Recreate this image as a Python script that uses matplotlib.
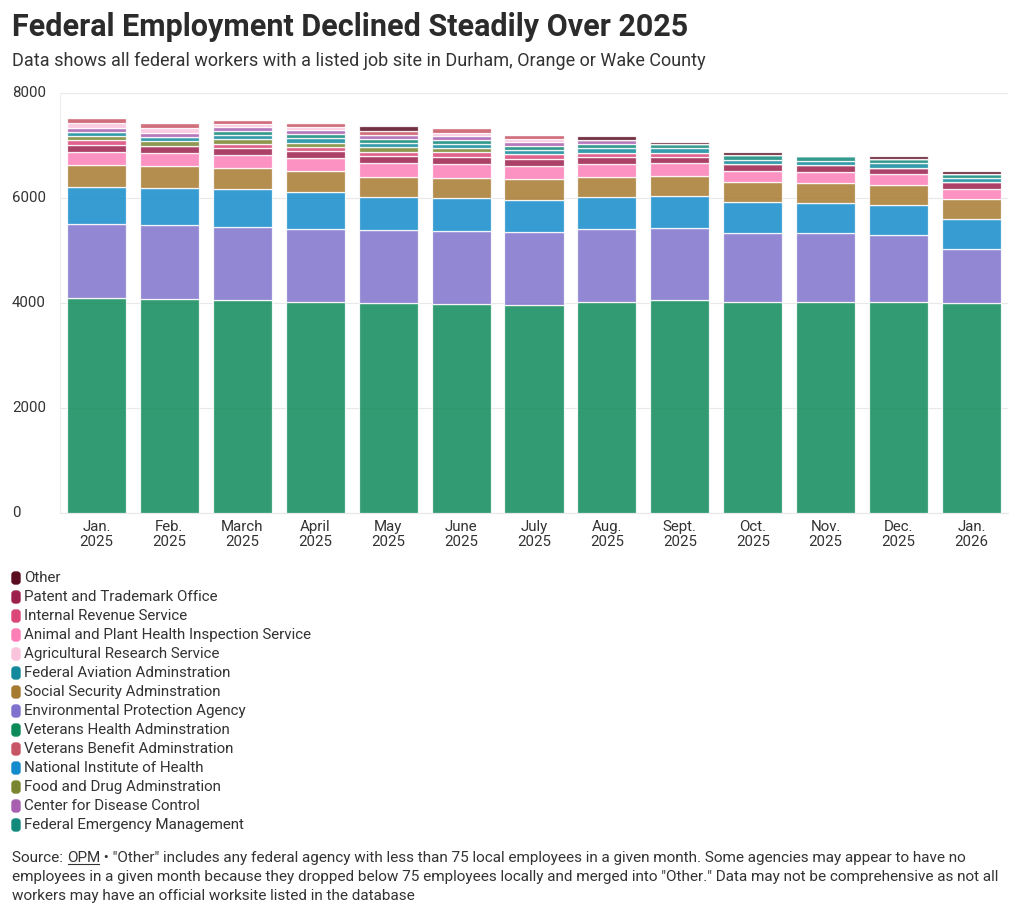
import matplotlib
matplotlib.use("Agg")
import matplotlib.pyplot as plt
from matplotlib.patches import FancyBboxPatch
import matplotlib.transforms as mtransforms

plt.rcParams["font.family"] = ["Roboto", "DejaVu Sans"]

# =============================================================================
# Data
# =============================================================================
months = ["Jan.\n2025", "Feb.\n2025", "March\n2025", "April\n2025", "May\n2025",
          "June\n2025", "July\n2025", "Aug.\n2025", "Sept.\n2025", "Oct.\n2025",
          "Nov.\n2025", "Dec.\n2025", "Jan.\n2026"]

vha = [4090, 4075, 4050, 4015, 3995, 3980, 3965, 4015, 4050, 4020, 4020, 4020, 3995]
epa = [1410, 1410, 1395, 1390, 1390, 1390, 1385, 1390, 1370, 1315, 1310, 1275, 1030]
nih = [705, 705, 720, 705, 630, 630, 610, 610, 610, 590, 575, 570, 570]
ssa = [420, 420, 400, 400, 380, 380, 400, 380, 380, 380, 380, 380, 380]
aphis = [245, 245, 250, 250, 265, 265, 250, 250, 250, 210, 210, 210, 200]
patent = [145, 140, 135, 135, 140, 140, 140, 140, 130, 135, 135, 125, 125]
irs = [85, 0, 85, 80, 85, 85, 80, 80, 75, 0, 0, 0, 0]
fda = [75, 85, 80, 80, 80, 80, 0, 0, 0, 0, 0, 0, 0]
faa = [85, 80, 80, 80, 80, 80, 80, 80, 80, 80, 80, 80, 80]
fema = [0, 0, 80, 80, 80, 80, 80, 80, 80, 85, 85, 85, 80]
cdc = [80, 80, 80, 80, 80, 80, 80, 80, 0, 0, 0, 0, 0]
ars = [85, 85, 55, 55, 0, 55, 55, 0, 0, 0, 0, 0, 0]
vba = [100, 100, 85, 85, 80, 80, 80, 0, 0, 0, 0, 0, 0]
other = [0, 0, 0, 0, 80, 0, 0, 75, 45, 55, 0, 60, 45]

# stacking order, bottom to top: (label, values, colour)
stack = [
    ("Veterans Health Adminstration", vha, "#0e8a5a"),
    ("Environmental Protection Agency", epa, "#7f72cc"),
    ("National Institute of Health", nih, "#148bcb"),
    ("Social Security Adminstration", ssa, "#a67a30"),
    ("Animal and Plant Health Inspection Service", aphis, "#fc7fb6"),
    ("Patent and Trademark Office", patent, "#9c1f4c"),
    ("Internal Revenue Service", irs, "#dc4579"),
    ("Food and Drug Adminstration", fda, "#7a8530"),
    ("Federal Aviation Adminstration", faa, "#128a9b"),
    ("Federal Emergency Management", fema, "#12897a"),
    ("Center for Disease Control", cdc, "#a85fb0"),
    ("Agricultural Research Service", ars, "#fbc4dd"),
    ("Veterans Benefit Adminstration", vba, "#c85565"),
    ("Other", other, "#5a0c20"),
]

legend_order = ["Other", "Patent and Trademark Office", "Internal Revenue Service",
                "Animal and Plant Health Inspection Service", "Agricultural Research Service",
                "Federal Aviation Adminstration", "Social Security Adminstration",
                "Environmental Protection Agency", "Veterans Health Adminstration",
                "Veterans Benefit Adminstration", "National Institute of Health",
                "Food and Drug Adminstration", "Center for Disease Control",
                "Federal Emergency Management"]

TXT = "#333333"
W, H = 1020, 916

# =============================================================================
# Figure
# =============================================================================
fig = plt.figure(figsize=(W / 100, H / 100), dpi=100)
ax = fig.add_axes([60 / W, 1 - 513 / H, 948 / W, 420 / H])

x = list(range(len(months)))
bottom = [0] * len(months)
for label, vals, color in stack:
    ax.bar(x, vals, width=0.81, bottom=bottom, color=color, alpha=0.85,
           edgecolor="white", linewidth=0.9, zorder=3)
    bottom = [b + v for b, v in zip(bottom, vals)]

ax.set_xlim(-0.5, len(months) - 0.5)
ax.set_ylim(0, 8000)
ax.set_yticks([0, 2000, 4000, 6000, 8000])
ax.set_yticklabels([])
ax.tick_params(axis="y", length=0)
ax.grid(axis="y", color="#e8e8e8", linewidth=0.8, zorder=0)
for s in ["top", "right"]:
    ax.spines[s].set_visible(False)
ax.spines["left"].set_color("#eeeeee")
ax.spines["bottom"].set_color("#e8e8e8")

# y labels sit at the left edge of the figure
blend = mtransforms.blended_transform_factory(fig.transFigure, ax.transData)
for v in [0, 2000, 4000, 6000, 8000]:
    ax.text(12 / W, v, f"{v}", transform=blend, ha="left", va="center",
            fontsize=10.8, color=TXT)

ax.set_xticks(x)
ax.set_xticklabels(months, fontsize=10.8, color=TXT, linespacing=1.1)
ax.tick_params(axis="x", length=0, pad=5)

# =============================================================================
# Titles
# =============================================================================
fig.text(12 / W, 1 - 27 / H, "Federal Employment Declined Steadily Over 2025",
         fontsize=22, fontweight="bold", color="#2b2b2b", va="center", ha="left")
fig.text(12 / W, 1 - 61 / H,
         "Data shows all federal workers with a listed job site in Durham, Orange or Wake County",
         fontsize=13, color=TXT, va="center", ha="left")

# =============================================================================
# Legend (vertical list under the chart)
# =============================================================================
colors = {lab: c for lab, _, c in stack}
for i, lab in enumerate(legend_order):
    yc = 1 - (578 + 19 * i) / H
    fig.patches.append(FancyBboxPatch((12 / W, yc - 6 / H), 8 / W, 12 / H,
                                      boxstyle="round,pad=0,rounding_size=0.003",
                                      transform=fig.transFigure, color=colors[lab]))
    fig.text(24 / W, yc, lab, fontsize=10.9, color=TXT, va="center", ha="left")

# =============================================================================
# Footnote
# =============================================================================
FS = 11
renderer = fig.canvas.get_renderer()
y1 = 1 - 858 / H
t1 = fig.text(12 / W, y1, "Source: ", fontsize=FS, color=TXT, va="center")
bb = t1.get_window_extent(renderer)
t2 = fig.text(bb.x1 / W, y1, "OPM", fontsize=FS, color=TXT, va="center")
bb2 = t2.get_window_extent(renderer)
fig.lines.append(plt.Line2D([(bb2.x0 + 1) / W, (bb2.x1 - 1) / W], [(bb2.y0 + 1) / H] * 2,
                            transform=fig.transFigure, color=TXT, linewidth=0.8))
fig.text(bb2.x1 / W, y1,
         " \u2022 \"Other\" includes any federal agency with less than 75 local employees in a given month. "
         "Some agencies may appear to have no",
         fontsize=FS, color=TXT, va="center")
fig.text(12 / W, 1 - 877 / H,
         "employees in a given month because they dropped below 75 employees locally and merged into "
         "\"Other.\" Data may not be comprehensive as not all",
         fontsize=FS, color=TXT, va="center")
fig.text(12 / W, 1 - 896 / H,
         "workers may have an official worksite listed in the database",
         fontsize=FS, color=TXT, va="center")

fig.savefig("out.png", dpi=100, facecolor="white")
